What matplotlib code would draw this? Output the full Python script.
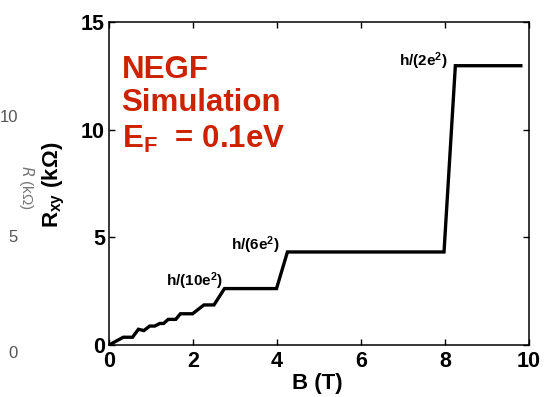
import numpy as np
import matplotlib
matplotlib.use("Agg")
import matplotlib.pyplot as plt

plt.rcParams['font.family'] = ['Liberation Sans', 'DejaVu Sans']
plt.rcParams['mathtext.default'] = 'regular'

# staircase of Hall resistance
B = [0.0, 0.34, 0.56, 0.70, 0.83, 0.97, 1.09, 1.21, 1.30, 1.41, 1.59, 1.70,
     1.99, 2.26, 2.50, 2.75, 3.99, 4.25, 7.98, 8.25, 9.81]
Rxy = [0.0, 0.36, 0.36, 0.73, 0.67, 0.88, 0.88, 1.0, 1.0, 1.19, 1.19, 1.45,
       1.45, 1.86, 1.86, 2.62, 2.62, 4.32, 4.32, 12.97, 12.97]

plateau_labels = ["h/(10e$^2$)", "h/(6e$^2$)", "h/(2e$^2$)"]
label_pos = [(2.72, 2.95), (4.07, 4.65), (8.05, 13.2)]

xticks = [0, 2, 4, 6, 8, 10]
yticks = [0, 5, 10, 15]

fig = plt.figure(figsize=(5.52, 3.97), dpi=100)
ax = fig.add_axes([0.1975, 0.131, 0.7605, 0.8136])

ax.plot(B, Rxy, color="black", lw=2.4, solid_joinstyle="miter")

for txt, (x, y) in zip(plateau_labels, label_pos):
    ax.text(x, y, txt, ha="right", va="center", fontsize=11, fontweight="bold")

red = "#cc2200"
ax.text(0.03, 0.852, "NEGF", transform=ax.transAxes, color=red,
        fontsize=22.5, fontweight="bold", va="center")
ax.text(0.03, 0.75, "Simulation", transform=ax.transAxes, color=red,
        fontsize=22.5, fontweight="bold", va="center")
ax.text(0.03, 0.635, "E$_F$  = 0.1eV", transform=ax.transAxes, color=red,
        fontsize=22.5, fontweight="bold", va="center")

ax.set_xlim(0, 10)
ax.set_ylim(0, 15)
ax.set_xticks(xticks)
ax.set_yticks(yticks)
ax.tick_params(direction="in", top=True, right=True, length=4, width=1,
               labelsize=15.5)
ax.tick_params(axis="x", pad=4)
ax.tick_params(axis="y", pad=3)
for lab in ax.get_xticklabels() + ax.get_yticklabels():
    lab.set_fontweight("bold")
for s in ax.spines.values():
    s.set_linewidth(1.1)

ax.set_xlabel("B (T)", fontsize=16, fontweight="bold")
ax.set_ylabel("R$_{xy}$ (k\u03a9)", fontsize=16, fontweight="bold")
ax.xaxis.set_label_coords(0.495, -0.088)
ax.yaxis.set_label_coords(-0.100, 0.495)

# faded remains of a neighbouring panel on the left edge
ghost = "#555555"
ghost_ticks = ["10", "5", "0"]
ghost_y = [117, 238, 353]
for t, y in zip(ghost_ticks, ghost_y):
    fig.text(18 / 552, 1 - y / 397, t, color=ghost, fontsize=12,
             ha="right", va="center")
fig.text(26 / 552, 1 - 188 / 397, "$\\it{R}$ (k\u03a9)", color="#777777",
         fontsize=11, rotation=-90, ha="center", va="center")

fig.savefig("out.png", dpi=100)
